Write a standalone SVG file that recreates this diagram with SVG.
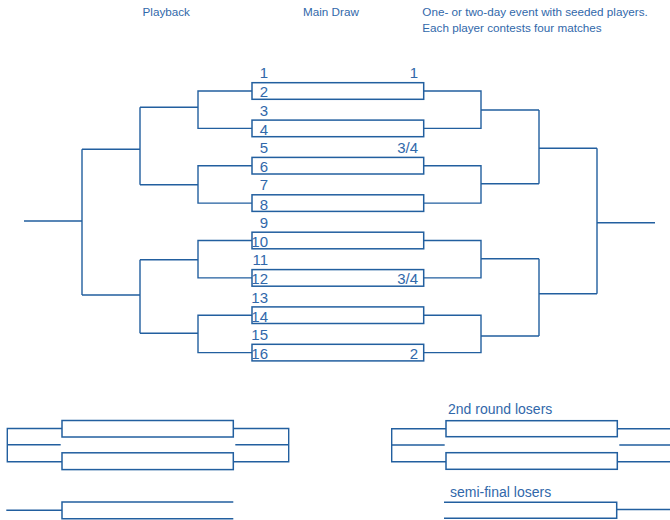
<svg xmlns="http://www.w3.org/2000/svg" width="670" height="520" viewBox="0 0 670 520">
<style>
.ln{fill:none;stroke:#225f9f;stroke-width:1.4}
.bx{fill:#fff;stroke:#225f9f;stroke-width:1.5}
.t{font-family:"Liberation Sans",Arial,sans-serif;fill:#3168aa}
.h{font-size:11.7px}
.n{font-size:15px;text-anchor:end}
.l{font-size:14px}
</style>
<rect width="670" height="520" fill="#fff"/>
<g id="headings">
<text class="t h" x="142.5" y="15.7">Playback</text>
<text class="t h" x="303" y="15.7">Main Draw</text>
<text class="t h" x="422.3" y="15.7">One- or two-day event with seeded players.</text>
<text class="t h" x="422.3" y="31.7">Each player contests four matches</text>
</g>
<g id="connectors">
<path class="ln" d="M252,91H198V128.4H252M198,107.3H140"/>
<path class="ln" d="M252,165.7H198V203.1H252M198,184.7H140"/>
<path class="ln" d="M252,240.5H198V277.9H252M198,259.7H140"/>
<path class="ln" d="M252,315.2H198V352.6H252M198,333.3H140"/>
<path class="ln" d="M140,107.3V184.7M140,149.3H82M140,259.7V333.3M140,295H82"/>
<path class="ln" d="M82,149.3V295M82,221H24"/>
<path class="ln" d="M424,91H481V128.4H424M481,110H539"/>
<path class="ln" d="M424,165.7H481V203.1H424M481,183.7H539"/>
<path class="ln" d="M424,240.5H481V277.9H424M481,258.7H539"/>
<path class="ln" d="M424,315.2H481V352.6H424M481,336H539"/>
<path class="ln" d="M539,110V183.7M539,148.3H597M539,258.7V336M539,293.7H597"/>
<path class="ln" d="M597,148.3V293.7M597,222.7H655"/>
<path class="ln" d="M62,428.5H7.3V461.7H62M7.3,444.8H60.7"/>
<path class="ln" d="M233.3,428.5H288.7V461.7H233.3M235.3,444.8H288.7"/>
<path class="ln" d="M6.3,510.3H62"/>
<path class="ln" d="M446,428.7H391.7V461.7H446M391.7,445H444.7"/>
<path class="ln" d="M617.3,428.7H670M617.3,461.7H670M619.3,445H670"/>
<path class="ln" d="M616.7,509.5H670"/>
</g>
<g id="slot1-2">
<rect class="bx" x="252" y="82.7" width="171.7" height="16.6"/>
<text class="t n" x="268" y="78.3">1</text>
<text class="t n" x="268" y="97.4">2</text>
<text class="t n" x="418" y="78.3">1</text>
</g>
<g id="slot3-4">
<rect class="bx" x="252" y="120.1" width="171.7" height="16.6"/>
<text class="t n" x="268" y="115.7">3</text>
<text class="t n" x="268" y="134.8">4</text>
</g>
<g id="slot5-6">
<rect class="bx" x="252" y="157.4" width="171.7" height="16.6"/>
<text class="t n" x="268" y="153">5</text>
<text class="t n" x="268" y="172.1">6</text>
<text class="t n" x="418" y="153">3/4</text>
</g>
<g id="slot7-8">
<rect class="bx" x="252" y="194.8" width="171.7" height="16.6"/>
<text class="t n" x="268" y="190.4">7</text>
<text class="t n" x="268" y="209.5">8</text>
</g>
<g id="slot9-10">
<rect class="bx" x="252" y="232.2" width="171.7" height="16.6"/>
<text class="t n" x="268" y="227.8">9</text>
<text class="t n" x="268" y="246.9">10</text>
</g>
<g id="slot11-12">
<rect class="bx" x="252" y="269.6" width="171.7" height="16.6"/>
<text class="t n" x="268" y="265.2">11</text>
<text class="t n" x="268" y="284.3">12</text>
<text class="t n" x="418" y="284.3">3/4</text>
</g>
<g id="slot13-14">
<rect class="bx" x="252" y="306.9" width="171.7" height="16.6"/>
<text class="t n" x="268" y="302.5">13</text>
<text class="t n" x="268" y="321.6">14</text>
</g>
<g id="slot15-16">
<rect class="bx" x="252" y="344.3" width="171.7" height="16.6"/>
<text class="t n" x="268" y="339.9">15</text>
<text class="t n" x="268" y="359">16</text>
<text class="t n" x="418" y="359">2</text>
</g>
<g id="playback-1">
<rect class="bx" x="62" y="420.5" width="171.3" height="16.5"/>
</g>
<g id="playback-2">
<rect class="bx" x="62" y="452.8" width="171.3" height="16.8"/>
</g>
<g id="playback-semi">
<path class="ln" d="M233.3,502H62V518.7H233.3" style="stroke-width:1.5"/>
</g>
<g id="losers-1">
<text class="t l" x="448" y="414">2nd round losers</text>
<rect class="bx" x="446" y="420.7" width="171.3" height="16"/>
</g>
<g id="losers-2">
<rect class="bx" x="446" y="452.7" width="171.3" height="16.6"/>
</g>
<g id="losers-semi">
<text class="t l" x="450" y="496.7">semi-final losers</text>
<path class="ln" d="M444,502.3H616.7V518.3H444" style="stroke-width:1.5"/>
</g>
</svg>
